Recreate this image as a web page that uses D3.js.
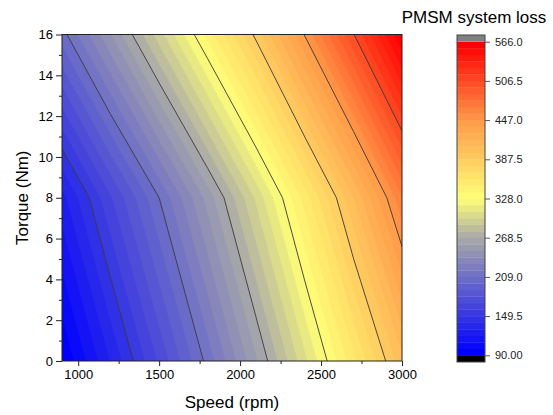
<!DOCTYPE html>
<html>
<head>
<meta charset="utf-8">
<script src="https://cdn.jsdelivr.net/npm/d3@7"></script>
<style>
  body { margin: 0; background: #fff; }
  text { font-family: Arial, "Liberation Sans", sans-serif; }
</style>
</head>
<body>
<svg id="chart" width="553" height="415"></svg>
<script>
// Motor operating grid: speed (rpm) x torque (Nm), system loss (W)
const speeds  = [900, 1200, 1500, 1800, 2100, 2400, 2700, 3000];
const torques = [0, 8, 16];
const lossT0  = [90, 130.3, 171.1, 212.6, 257.2, 305.3, 354.7, 404.1];
const lossT8  = [126, 168, 209, 252.5, 300.2, 351.7, 406.8, 465.3];
const lossT16 = [204.5, 248.2, 293.6, 341.2, 391.1, 448, 505.7, 566];

const lineLevels = [149.5, 209, 268.5, 328, 387.5, 447, 506.5];
const barTicks = [90, 149.5, 209, 268.5, 328, 387.5, 447, 506.5, 566];
const barTickLabels = ["90.00", "149.5", "209.0", "268.5", "328.0", "387.5", "447.0", "506.5", "566.0"];
const xTicks = [1000, 1500, 2000, 2500, 3000];
const xMinorTicks = [1250, 1750, 2250, 2750];
const yTicks = [0, 2, 4, 6, 8, 10, 12, 14, 16];
const yMinorTicks = [1, 3, 5, 7, 9, 11, 13, 15];
const zMin = 90, zMax = 566, nLevels = 48;

const svg = d3.select("#chart");
const plot = { left: 62, right: 402, top: 34.5, bottom: 361 };

const x = d3.scaleLinear().domain([900, 3000]).range([plot.left, plot.right]);
const y = d3.scaleLinear().domain([0, 16]).range([plot.bottom, plot.top]);

// Blue - gray - yellow - orange - red palette
const cmap = d3.scaleLinear()
  .domain([0, 0.375, 0.5, 0.75, 1])
  .range(["#0000ff", "#aaaaa8", "#ffff78", "#ff9c4a", "#ff0000"])
  .interpolate(d3.interpolateRgb);
const bandColor = k => cmap(k / (nLevels - 1));
const step = (zMax - zMin) / nLevels;

const nx = speeds.length, ny = torques.length;
const values = [...lossT0, ...lossT8, ...lossT16];

const idxToSpeed = d3.scaleLinear().domain(d3.range(nx)).range(speeds);
const idxToTorque = d3.scaleLinear().domain(d3.range(ny)).range(torques);
const proj = d3.geoTransform({
  point(px, py) { this.stream.point(x(idxToSpeed(px - 0.5)), y(idxToTorque(py - 0.5))); }
});
const path = d3.geoPath(proj);

svg.append("clipPath").attr("id", "plotClip")
  .append("rect")
  .attr("x", plot.left).attr("y", plot.top)
  .attr("width", plot.right - plot.left).attr("height", plot.bottom - plot.top);

const field = svg.append("g").attr("clip-path", "url(#plotClip)");

// lowest band fills the whole area
field.append("rect")
  .attr("x", plot.left).attr("y", plot.top)
  .attr("width", plot.right - plot.left).attr("height", plot.bottom - plot.top)
  .attr("fill", bandColor(0));

const fillThresholds = d3.range(1, nLevels).map(k => zMin + k * step);
const bands = d3.contours().size([nx, ny]).thresholds(fillThresholds)(values);
field.selectAll("path.band").data(bands).join("path")
  .attr("class", "band")
  .attr("d", path)
  .attr("fill", (d, i) => bandColor(i + 1))
  .attr("stroke", (d, i) => bandColor(i + 1))
  .attr("stroke-width", 0.4);

const lines = d3.contours().size([nx, ny]).thresholds(lineLevels)(values);
field.selectAll("path.iso").data(lines).join("path")
  .attr("class", "iso")
  .attr("d", path)
  .attr("fill", "none")
  .attr("stroke", "#3a3a3a")
  .attr("stroke-width", 0.9);

// frame
svg.append("rect")
  .attr("x", plot.left).attr("y", plot.top)
  .attr("width", plot.right - plot.left).attr("height", plot.bottom - plot.top)
  .attr("fill", "none").attr("stroke", "#222").attr("stroke-width", 1);

// x axis
const gx = svg.append("g").attr("transform", `translate(0,${plot.bottom})`);
gx.call(d3.axisBottom(x).tickValues(xTicks).tickFormat(d3.format("d"))
  .tickSize(5).tickSizeOuter(0).tickPadding(4));
gx.append("g").call(d3.axisBottom(x).tickValues(xMinorTicks).tickSize(3).tickFormat(""));
gx.selectAll(".domain").remove();
gx.selectAll("text").attr("font-size", 13).attr("fill", "#000").attr("font-family", "Arial, 'Liberation Sans', sans-serif");
gx.selectAll("line").attr("stroke", "#222");

// y axis
const gy = svg.append("g").attr("transform", `translate(${plot.left},0)`);
gy.call(d3.axisLeft(y).tickValues(yTicks).tickFormat(d3.format("d"))
  .tickSize(6).tickSizeOuter(0).tickPadding(3));
gy.append("g").call(d3.axisLeft(y).tickValues(yMinorTicks).tickSize(3).tickFormat(""));
gy.selectAll(".domain").remove();
gy.selectAll("text").attr("font-size", 13).attr("fill", "#000").attr("font-family", "Arial, 'Liberation Sans', sans-serif");
gy.selectAll("line").attr("stroke", "#222");

// axis titles
svg.append("text")
  .attr("x", (plot.left + plot.right) / 2).attr("y", 408)
  .attr("text-anchor", "middle").attr("font-size", 17)
  .text("Speed (rpm)");
svg.append("text")
  .attr("transform", `translate(28,${(plot.top + plot.bottom) / 2}) rotate(-90)`)
  .attr("text-anchor", "middle").attr("font-size", 17)
  .text("Torque (Nm)");

// color scale
const bar = { left: 457, right: 485, top: 35, bottom: 362 };
const cb = d3.scaleLinear().domain([zMin, zMax]).range([355.3, 41.7]);
const gBar = svg.append("g");
gBar.selectAll("rect.lvl").data(d3.range(nLevels)).join("rect")
  .attr("class", "lvl")
  .attr("x", bar.left).attr("width", bar.right - bar.left)
  .attr("y", k => cb(zMin + (k + 1) * step))
  .attr("height", k => cb(zMin + k * step) - cb(zMin + (k + 1) * step) + 0.3)
  .attr("fill", k => bandColor(k));
gBar.append("rect")
  .attr("x", bar.left).attr("width", bar.right - bar.left)
  .attr("y", bar.top).attr("height", cb(zMax) - bar.top)
  .attr("fill", "#808080");
gBar.append("rect")
  .attr("x", bar.left).attr("width", bar.right - bar.left)
  .attr("y", cb(zMin)).attr("height", bar.bottom - cb(zMin))
  .attr("fill", "#000");
gBar.append("rect")
  .attr("x", bar.left).attr("y", bar.top)
  .attr("width", bar.right - bar.left).attr("height", bar.bottom - bar.top)
  .attr("fill", "none").attr("stroke", "#444").attr("stroke-width", 1);

const gBarAxis = svg.append("g").attr("transform", `translate(${bar.right},0)`);
gBarAxis.call(d3.axisRight(cb).tickValues(barTicks).tickSize(5).tickSizeOuter(0).tickPadding(5)
  .tickFormat((d, i) => barTickLabels[i]));
gBarAxis.selectAll(".domain").remove();
gBarAxis.selectAll("line").attr("stroke", "#555");
gBarAxis.selectAll("text").attr("font-size", 11).attr("fill", "#222").attr("font-family", "Arial, 'Liberation Sans', sans-serif");

svg.append("text")
  .attr("x", 474).attr("y", 23)
  .attr("text-anchor", "middle").attr("font-size", 17)
  .text("PMSM system loss");
</script>
</body>
</html>
